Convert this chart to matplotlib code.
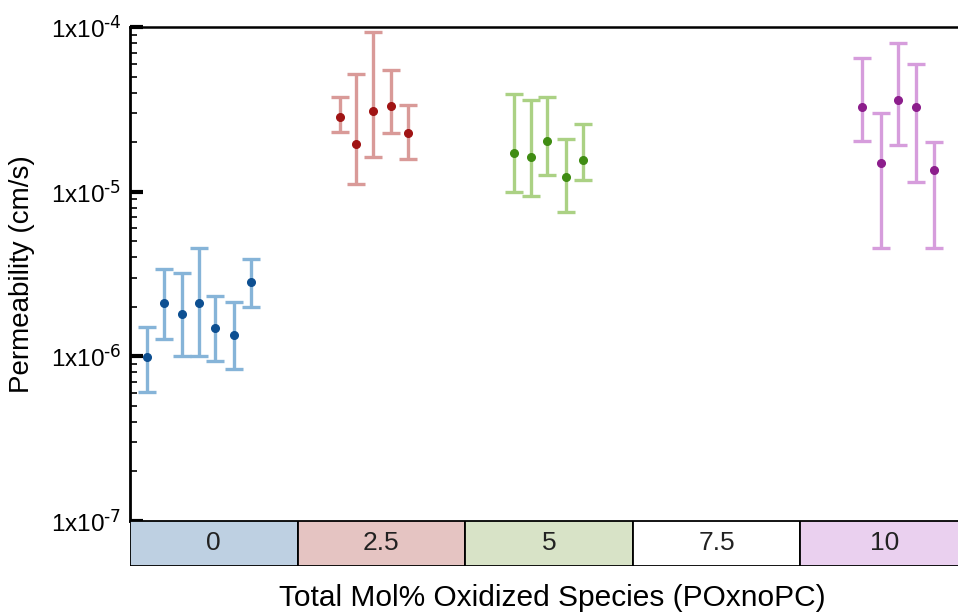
import matplotlib.pyplot as plt

plt.rcParams['font.family'] = ['Liberation Sans', 'DejaVu Sans']
plt.rcParams['mathtext.default'] = 'regular'

categories = ['0', '2.5', '5', '7.5', '10']
band_colors = ['#bed0e2', '#e5c4c2', '#d8e3c7', '#ffffff', '#ead0ef']
ytick_vals = [1e-7, 1e-6, 1e-5, 1e-4]
ytick_labels = [r'$1x10^{\text{-7}}$', r'$1x10^{\text{-6}}$',
                r'$1x10^{\text{-5}}$', r'$1x10^{\text{-4}}$']

# x positions in category units (each box is 1 wide)
x_blue = [0.10, 0.20, 0.31, 0.41, 0.51, 0.62, 0.72]
y_blue = [0.99e-6, 2.10e-6, 1.82e-6, 2.11e-6, 1.49e-6, 1.35e-6, 2.84e-6]
lo_blue = [0.61e-6, 1.27e-6, 1.00e-6, 1.01e-6, 0.94e-6, 0.84e-6, 2.00e-6]
hi_blue = [1.50e-6, 3.39e-6, 3.19e-6, 4.53e-6, 2.32e-6, 2.13e-6, 3.88e-6]

x_red = [1.25, 1.35, 1.45, 1.56, 1.66]
y_red = [2.84e-5, 1.94e-5, 3.10e-5, 3.30e-5, 2.26e-5]
lo_red = [2.30e-5, 1.11e-5, 1.62e-5, 2.28e-5, 1.59e-5]
hi_red = [3.76e-5, 5.20e-5, 9.33e-5, 5.50e-5, 3.36e-5]

x_green = [2.29, 2.39, 2.49, 2.60, 2.70]
y_green = [1.72e-5, 1.62e-5, 2.03e-5, 1.22e-5, 1.56e-5]
lo_green = [0.99e-5, 0.94e-5, 1.27e-5, 0.75e-5, 1.17e-5]
hi_green = [3.92e-5, 3.59e-5, 3.77e-5, 2.09e-5, 2.59e-5]

x_purple = [4.37, 4.48, 4.58, 4.69, 4.80]
y_purple = [3.28e-5, 1.50e-5, 3.60e-5, 3.28e-5, 1.35e-5]
lo_purple = [2.03e-5, 0.455e-5, 1.91e-5, 1.15e-5, 0.455e-5]
hi_purple = [6.45e-5, 3.00e-5, 7.96e-5, 5.99e-5, 2.00e-5]

series = [
    (x_blue, y_blue, lo_blue, hi_blue, '#86b4d8', '#0d4f91'),
    (x_red, y_red, lo_red, hi_red, '#d99a98', '#a01414'),
    (x_green, y_green, lo_green, hi_green, '#abd184', '#3f8c12'),
    (x_purple, y_purple, lo_purple, hi_purple, '#d69ddc', '#8c1d8c'),
]

W, H = 958, 614
fig = plt.figure(figsize=(W / 100, H / 100), dpi=100)
box_w = 167.6
ax = fig.add_axes([130 / W, (H - 521) / H, 5 * box_w / W, 494 / H])

for xs, ys, lo, hi, ecol, mcol in series:
    yerr = [[y - l for y, l in zip(ys, lo)], [h - y for y, h in zip(ys, hi)]]
    ax.errorbar(xs, ys, yerr=yerr, fmt='o', color=mcol, ms=5.5,
                ecolor=ecol, elinewidth=2.4, capsize=6.5, capthick=2.4, zorder=3)

ax.set_yscale('log')
ax.set_ylim(1e-7, 1e-4)
ax.set_xlim(0, 5)
ax.set_xticks([])
ax.set_yticks(ytick_vals)
ax.set_yticklabels(ytick_labels, fontsize=17.5)
ax.tick_params(axis='y', which='major', direction='in', length=9, width=3, pad=6)
ax.tick_params(axis='y', which='minor', direction='in', length=5, width=1.2, labelleft=False)
ax.spines['left'].set_linewidth(2)
ax.spines['top'].set_linewidth(1.8)
ax.spines['bottom'].set_linewidth(2)
ax.spines['right'].set_visible(False)
ax.set_ylabel('Permeability (cm/s)', fontsize=20)
ax.yaxis.set_label_coords(-95 / (5 * box_w), 0.5)

band = fig.add_axes([130 / W, (H - 566) / H, 5 * box_w / W, 45 / H])
band.bar(range(len(categories)), [1] * len(categories), width=1.0, align='edge',
         color=band_colors, edgecolor='black', linewidth=1.3)
for i, c in enumerate(categories):
    band.text(i + 0.5, 0.5, c, ha='center', va='center', fontsize=19, color='#222222')
band.set_xlim(0, 5)
band.set_ylim(0, 1)
band.axis('off')

fig.text(552 / W, (H - 598) / H, 'Total Mol% Oxidized Species (POxnoPC)',
         ha='center', va='center', fontsize=21.5)

fig.savefig('out.png', dpi=100)
